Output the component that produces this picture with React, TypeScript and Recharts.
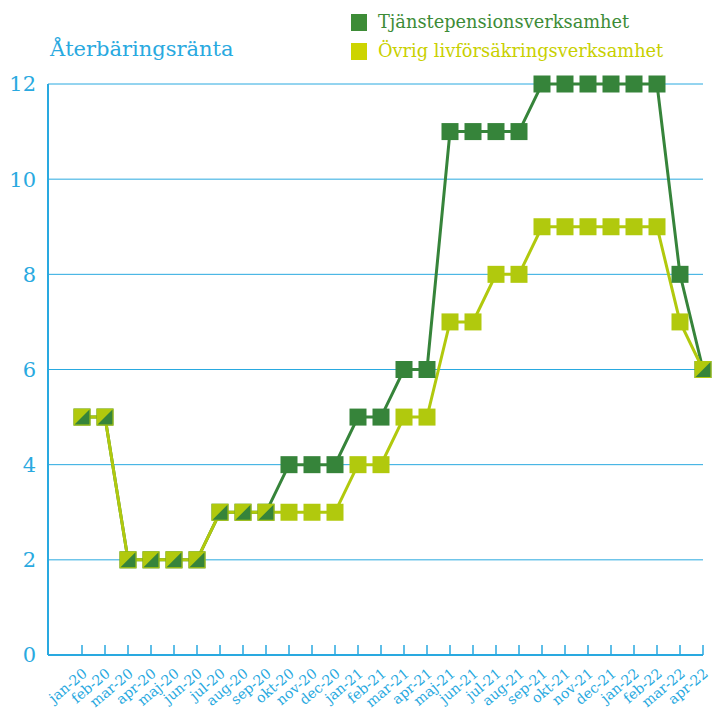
import React from 'react';
import { LineChart, Line, XAxis, YAxis, CartesianGrid } from 'recharts';

const months = [
  'jan-20', 'feb-20', 'mar-20', 'apr-20', 'maj-20', 'jun-20', 'jul-20', 'aug-20', 'sep-20', 'okt-20',
  'nov-20', 'dec-20', 'jan-21', 'feb-21', 'mar-21', 'apr-21', 'maj-21', 'jun-21', 'jul-21', 'aug-21',
  'sep-21', 'okt-21', 'nov-21', 'dec-21', 'jan-22', 'feb-22', 'mar-22', 'apr-22',
];
const tjanstepension = [5, 5, 2, 2, 2, 2, 3, 3, 3, 4, 4, 4, 5, 5, 6, 6, 11, 11, 11, 11, 12, 12, 12, 12, 12, 12, 8, 6];
const ovrigLiv = [5, 5, 2, 2, 2, 2, 3, 3, 3, 3, 3, 3, 4, 4, 5, 5, 7, 7, 8, 8, 9, 9, 9, 9, 9, 9, 7, 6];
const yTicks = [0, 2, 4, 6, 8, 10, 12];

const BLUE = '#29a9e0';
const DARK = '#36843a';
const LIGHT = '#b1c90d';
const FONT = '"DejaVu Serif", serif';
const S = 17;

const data = months.map((m, i) => ({ month: m, tp: tjanstepension[i], ov: ovrigLiv[i] }));

const DarkDot = (props: any) => {
  const { cx, cy, index } = props;
  if (cx == null || cy == null) return null;
  return <rect key={`d${index}`} x={cx - S / 2} y={cy - S / 2} width={S} height={S} fill={DARK} />;
};

// light marker; where both series share a value the square is split diagonally
const LightDot = (props: any) => {
  const { cx, cy, index, payload } = props;
  if (cx == null || cy == null) return null;
  const h = S / 2;
  const same = payload.tp === payload.ov;
  return (
    <g key={`l${index}`}>
      <rect x={cx - h} y={cy - h} width={S} height={S} fill={LIGHT} />
      {same && (
        <polygon
          points={`${cx + h - 1},${cy - h + 1} ${cx + h - 1},${cy + h - 1} ${cx - h + 1},${cy + h - 1}`}
          fill={DARK}
        />
      )}
    </g>
  );
};

const XTick = (props: any) => {
  const { x, payload } = props;
  const tx = x + 6;
  const ty = 675;
  return (
    <text
      x={tx}
      y={ty}
      textAnchor="end"
      fill={BLUE}
      fontSize={14}
      fontFamily={FONT}
      transform={`rotate(-40, ${tx}, ${ty})`}
    >
      {payload.value}
    </text>
  );
};

export default function App() {
  return (
    <div style={{ position: 'absolute', left: 0, top: 0, width: 717, height: 711 }}>
      <div style={{ position: 'absolute', left: 50, top: 35, color: BLUE, fontFamily: FONT, fontSize: 21, lineHeight: '28px' }}>
        Återbäringsränta
      </div>
      <div style={{ position: 'absolute', left: 351, top: 14, width: 16, height: 17, background: '#3d8c37' }} />
      <div style={{ position: 'absolute', left: 378, top: 10, color: '#3d8c37', fontFamily: FONT, fontSize: 17.8, lineHeight: '24px' }}>
        Tjänstepensionsverksamhet
      </div>
      <div style={{ position: 'absolute', left: 351, top: 43, width: 16, height: 17, background: '#cdd400' }} />
      <div style={{ position: 'absolute', left: 378, top: 39, color: '#c8d000', fontFamily: FONT, fontSize: 17.8, lineHeight: '24px' }}>
        Övrig livförsäkringsverksamhet
      </div>
      <LineChart width={717} height={711} data={data} margin={{ top: 84, right: 14, bottom: 0, left: 0 }}>
        <CartesianGrid vertical={false} stroke={BLUE} strokeWidth={1} horizontalValues={yTicks} />
        <XAxis
          dataKey="month"
          scale="point"
          padding={{ left: 34, right: 0 }}
          height={56}
          interval={0}
          axisLine={{ stroke: BLUE, strokeWidth: 2 }}
          tickLine={{ stroke: BLUE, strokeWidth: 1.5 }}
          tickSize={-10}
          tick={<XTick />}
        />
        <YAxis
          domain={[0, 12]}
          ticks={yTicks}
          width={48}
          axisLine={{ stroke: BLUE, strokeWidth: 2 }}
          tickLine={false}
          tickSize={0}
          tickMargin={12}
          tick={{ fill: BLUE, fontSize: 21, fontFamily: FONT }}
        />
        <Line dataKey="tp" stroke={DARK} strokeWidth={3} dot={<DarkDot />} activeDot={false} isAnimationActive={false} />
        <Line dataKey="ov" stroke={LIGHT} strokeWidth={3} dot={<LightDot />} activeDot={false} isAnimationActive={false} />
      </LineChart>
    </div>
  );
}
